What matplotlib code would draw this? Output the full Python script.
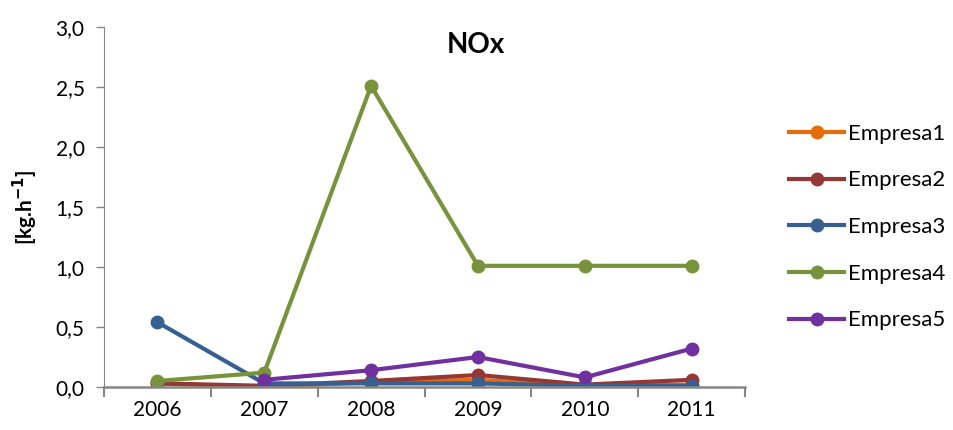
import matplotlib.pyplot as plt
import numpy as np

years = ["2006", "2007", "2008", "2009", "2010", "2011"]
empresa1 = [0.03, 0.00, 0.04, 0.06, 0.01, 0.02]
empresa2 = [0.03, 0.01, 0.05, 0.10, 0.02, 0.06]
empresa3 = [0.54, 0.03, 0.03, 0.03, 0.01, 0.01]
empresa4 = [0.05, 0.12, 2.51, 1.01, 1.01, 1.01]
empresa5 = [None, 0.06, 0.14, 0.25, 0.08, 0.32]

series = [
    ("Empresa1", empresa1, "#E46C0A"),
    ("Empresa2", empresa2, "#953735"),
    ("Empresa3", empresa3, "#376092"),
    ("Empresa4", empresa4, "#77933C"),
    ("Empresa5", empresa5, "#7030A0"),
]

plt.rcParams["font.family"] = ["Lato", "DejaVu Sans"]

fig = plt.figure(figsize=(9.54, 4.30), dpi=100)
ax = fig.add_axes([0.109, 0.1, 0.672, 0.837])

x = np.arange(len(years))
for name, vals, col in series:
    y = np.array([np.nan if v is None else v for v in vals], dtype=float)
    ax.plot(x, y, color=col, lw=3, marker="o", ms=9, label=name)

ax.set_xlim(-0.5, len(years) - 0.5)
ax.set_ylim(0, 3.0)
yt = np.arange(0, 3.01, 0.5)
ax.set_yticks(yt)
ax.set_yticklabels([f"{v:.1f}".replace(".", ",") for v in yt])
ax.set_xticks(x)
ax.set_xticklabels(years)
ax.set_xticks(np.arange(-0.5, len(years), 1.0), minor=True)
ax.tick_params(axis="x", which="major", length=0, pad=9, labelsize=15)
ax.tick_params(axis="x", which="minor", length=7, width=1.5, color="#868686", direction="out")
ax.tick_params(axis="y", length=6, width=1, color="#868686", labelsize=15, pad=8)

for s in ["top", "right"]:
    ax.spines[s].set_visible(False)
ax.spines["left"].set_color("#868686")
ax.spines["bottom"].set_color("#868686")
ax.spines["bottom"].set_linewidth(1.8)

ax.set_ylabel("[kg.h$^{\\mathbf{-1}}$]", fontsize=15, fontweight="bold", labelpad=11)
ax.text(0.58, 0.95, "NOx", transform=ax.transAxes, ha="center", va="center",
        fontsize=20, fontweight="bold")

fig.legend(loc="center left", bbox_to_anchor=(0.806, 0.472), frameon=False,
           fontsize=16, handlelength=2.5, labelspacing=1.2, handletextpad=0.15)

fig.savefig("out.png", dpi=100)
